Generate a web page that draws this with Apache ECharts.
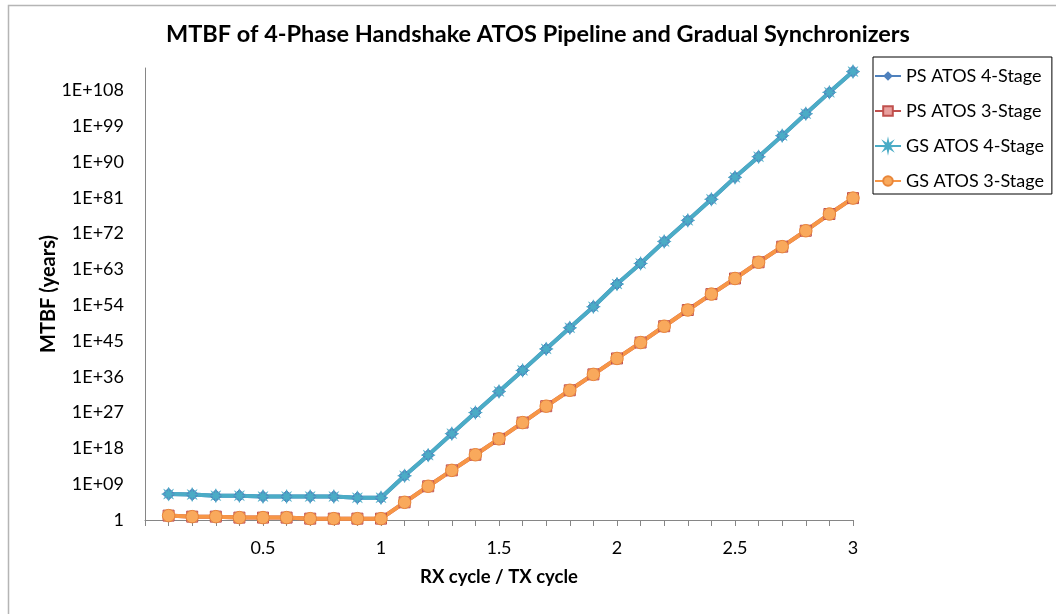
<!DOCTYPE html>
<html>
<head>
<meta charset="utf-8">
<script src="https://cdn.jsdelivr.net/npm/echarts@6/dist/echarts.min.js"></script>
<style>html,body{margin:0;padding:0;background:#fff}#c{width:1056px;height:614px}</style>
</head>
<body>
<div id="c"></div>
<script>
// ---- data ----
const ratio = [0.1,0.2,0.3,0.4,0.5,0.6,0.7,0.8,0.9,1.0,1.1,1.2,1.3,1.4,1.5,1.6,1.7,1.8,1.9,2.0,2.1,2.2,2.3,2.4,2.5,2.6,2.7,2.8,2.9,3.0];
const stage4 = [3.2e6,2.5e6,1.3e6,1.3e6,7.9e5,7.9e5,7.9e5,7.9e5,4e5,4e5,1.3e11,2e16,5e21,1e27,2e32,4e37,1e43,2e48,4e53,2e59,3e64,1e70,2e75,4e80,1.3e86,2e91,4e96,1.3e102,3e107,5e112];
const stage3 = [12.6,7,7,4,4,4,2.2,2.2,2.2,2.2,2.8e4,3e8,3e12,2.5e16,2.5e20,3e24,4e28,4e32,4e36,4e40,4e44,5e48,6e52,6e56,5e60,6e64,5e68,5e72,8e76,8e80];
const psAtos4 = stage4, psAtos3 = stage3, gsAtos4 = stage4, gsAtos3 = stage3;
const seriesNames = ['PS ATOS 4-Stage','PS ATOS 3-Stage','GS ATOS 4-Stage','GS ATOS 3-Stage'];
const xTicks = [0.5,1,1.5,2,2.5,3];
const titleText = 'MTBF of 4-Phase Handshake ATOS Pipeline and Gradual Synchronizers';

function pairs(ys){ return ratio.map((x,i)=>[x, ys[i]]); }

// asterisk-like star path (style only)
function starPath(n, r1, r2){
  let d='';
  for(let i=0;i<n*2;i++){
    const r = i%2===0 ? r1 : r2;
    const a = Math.PI*i/n - Math.PI/2;
    d += (i===0?'M':'L') + (r*Math.cos(a)).toFixed(2)+' '+(r*Math.sin(a)).toFixed(2)+' ';
  }
  return 'path://'+d+'Z';
}

const FONT = 'Lato';
const chart = echarts.init(document.getElementById('c'), null, {renderer:'canvas'});
const option = {
  backgroundColor:'#fff',
  animation:false,
  textStyle:{fontFamily:FONT},
  title:{
    text:titleText, left:166, top:22, padding:0,
    textStyle:{fontFamily:FONT, fontSize:23.5, fontWeight:'bold', color:'#000'}
  },
  graphic:[{
    type:'rect', shape:{x:8.5,y:5.5,width:1100,height:700},
    style:{fill:'none', stroke:'#b5b5b5', lineWidth:1.5}, silent:true, z:-1
  }],
  legend:{
    orient:'vertical', left:873, top:57,
    padding:[8,8,2,1], itemGap:13, itemWidth:26, itemHeight:12,
    borderColor:'#000', borderWidth:1,
    textStyle:{fontFamily:FONT, fontSize:18, color:'#000', lineHeight:22},
    data:seriesNames
  },
  grid:{left:145, right:203, top:68, bottom:94, containLabel:false},
  xAxis:{
    type:'value', min:0, max:3, interval:0.5,
    name:'RX cycle / TX cycle', nameLocation:'middle', nameGap:48,
    nameTextStyle:{fontFamily:FONT, fontSize:18.5, fontWeight:'bold', color:'#000'},
    axisLine:{show:true, onZero:false, lineStyle:{color:'#868686', width:1}},
    axisTick:{show:true, length:6, lineStyle:{color:'#868686'}},
    minorTick:{show:true, splitNumber:5, length:6, lineStyle:{color:'#868686'}},
    splitLine:{show:false},
    axisLabel:{margin:19, fontFamily:FONT, fontSize:18, color:'#000',
      formatter:function(v){ return xTicks.some(t=>Math.abs(t-v)<1e-6) ? String(v) : ''; }}
  },
  yAxis:{
    type:'log', logBase:1e9, min:1, max:Math.pow(10,113.6), splitNumber:13, interval:1,
    name:'MTBF (years)', nameLocation:'middle', nameGap:86, nameRotate:90, nameMoveOverlap:false,
    nameTextStyle:{fontFamily:FONT, fontSize:20, fontWeight:'bold', color:'#000'},
    axisLine:{show:true, lineStyle:{color:'#868686', width:1}},
    axisTick:{show:false},
    splitLine:{show:false},
    axisLabel:{margin:21, fontFamily:FONT, fontSize:18, color:'#000', showMaxLabel:false,
      formatter:function(v){
        const l = Math.log10(v); const e = Math.round(l);
        if (Math.abs(l-e)>0.01 || e%9!==0 || e>110) return '';
        if (e===0) return '1';
        return '1E+' + (e<10 ? '0'+e : e);
      }}
  },
  series:[
    {name:seriesNames[0], type:'line', data:pairs(psAtos4), symbol:'diamond', symbolSize:12,
     lineStyle:{color:'#4F81BD', width:4}, itemStyle:{color:'#4F81BD', borderColor:'#4F81BD'}},
    {name:seriesNames[1], type:'line', data:pairs(psAtos3), symbol:'rect', symbolSize:11,
     lineStyle:{color:'#C0504D', width:4}, itemStyle:{color:'#E9A09E', borderColor:'#C0504D', borderWidth:1}},
    {name:seriesNames[2], type:'line', data:pairs(gsAtos4), symbol:starPath(8,6,2.2), symbolSize:14,
     lineStyle:{color:'#4BACC6', width:4}, itemStyle:{color:'#4BACC6', borderColor:'#4BACC6', borderWidth:0.5}},
    {name:seriesNames[3], type:'line', data:pairs(gsAtos3), symbol:'circle', symbolSize:12.5,
     lineStyle:{color:'#F79646', width:4}, itemStyle:{color:'#F9A95C', borderColor:'#E8863A', borderWidth:1}}
  ]
};
chart.setOption(option);
</script>
</body>
</html>
